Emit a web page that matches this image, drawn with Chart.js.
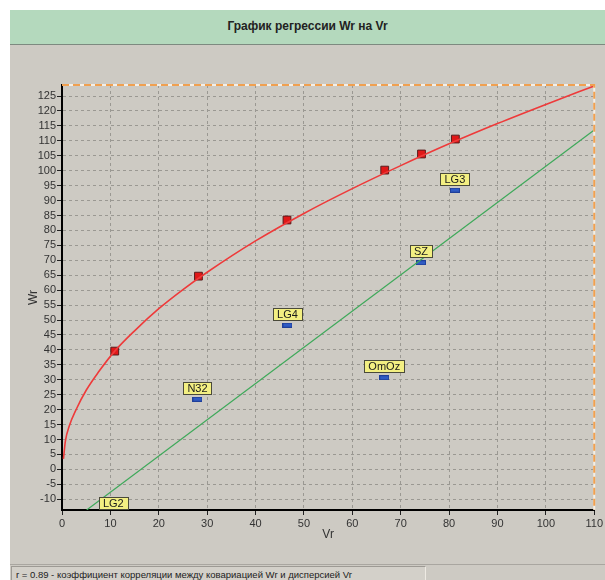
<!DOCTYPE html>
<html>
<head>
<meta charset="utf-8">
<script src="https://cdn.jsdelivr.net/npm/chart.js@4/dist/chart.umd.min.js"></script>
<style>
  html, body { margin: 0; padding: 0; background: #fff; }
  .win { position: relative; width: 605px; height: 580px; overflow: hidden; }
  .titlebar {
    position: absolute; left: 10px; top: 10px; width: 595px; height: 34px;
    background: #b4d9bd; border-bottom: 1px solid #7d8a80;
    font: bold 12px "Liberation Sans", Arial, sans-serif; color: #222;
    text-align: center; line-height: 33px;
  }
  .body { position: absolute; left: 10px; top: 45px; width: 595px; height: 535px; background: #cdcac3; }
  #chart { position: absolute; left: 10px; top: 45px; }
  .status {
    position: absolute; left: 10px; top: 564px; width: 595px; height: 16px;
    border-top: 1px solid #a9a6a0; background: #cdcac3;
  }
  .status span {
    position: absolute; left: 1px; top: 1px; width: 409px; height: 16px;
    border: 1px solid #9d9a94; border-right-color: #eeeae3; background: #d3d0c9;
    font: 9.5px "Liberation Sans", Arial, sans-serif; color: #222; line-height: 15px;
    padding-left: 4px; white-space: nowrap;
  }
</style>
</head>
<body>
<div class="win">
  <div class="titlebar">График регрессии Wr на Vr</div>
  <div class="body"></div>
  <canvas id="chart" width="595" height="518"></canvas>
  <div class="status"><span>r = 0.89 - коэффициент корреляции между ковариацией Wr и дисперсией Vr</span></div>
</div>
<script>
// red regression curve
const curveVr = [0.3, 0.7, 1.5, 3, 5, 7.5, 10.9, 15, 20, 25, 30, 40, 50, 60, 70, 80, 90, 100, 110];
const curveWr = [3.5, 9.5, 14.5, 20.3, 26.5, 32.5, 39.6, 46.4, 53.8, 60.2, 66, 76.5, 85.7, 94, 101.7, 109, 115.8, 122.2, 128.4];

// red squares on the curve
const limitVr = [10.9, 28.2, 46.5, 66.7, 74.3, 81.3];
const limitWr = [39.6, 64.7, 83.5, 100.2, 105.6, 110.6];

// green line (ends)
const lineVr = [5.1, 110];
const lineWr = [-13.6, 113.6];

// sample points
const sampleNames = ['LG2', 'N32', 'LG4', 'OmOz', 'SZ', 'LG3'];
const sampleVr = [10.6, 28.0, 46.6, 66.6, 74.2, 81.2];
const sampleWr = [-15.2, 23.5, 48.3, 30.7, 69.2, 93.5];

const xMin = 0, xMax = 110;
const yMin = -13.6, yMax = 128.7;

const toXY = (xs, ys) => xs.map((x, i) => ({ x, y: ys[i] }));

// small flat blue marker
const blueMark = document.createElement('canvas');
blueMark.width = 10;
blueMark.height = 5;
{
  const c = blueMark.getContext('2d');
  c.fillStyle = '#1f3f9a';
  c.fillRect(0, 0, 10, 5);
  c.fillStyle = '#2f5bc4';
  c.fillRect(1, 1, 8, 3);
}

const frameBorder = {
  id: 'frameBorder',
  afterDatasetsDraw(chart) {
    const { ctx, chartArea: a } = chart;
    ctx.save();
    ctx.lineWidth = 2;
    ctx.strokeStyle = '#f4efe6';
    ctx.beginPath();
    ctx.moveTo(a.left, a.top);
    ctx.lineTo(a.right, a.top);
    ctx.lineTo(a.right, a.bottom);
    ctx.stroke();
    ctx.strokeStyle = '#f0a050';
    ctx.setLineDash([7, 4]);
    ctx.stroke();
    ctx.restore();
  },
};

const sampleLabels = {
  id: 'sampleLabels',
  afterDatasetsDraw(chart) {
    const { ctx } = chart;
    const meta = chart.getDatasetMeta(3);
    ctx.save();
    ctx.font = '11px "Liberation Sans", Arial, sans-serif';
    ctx.textAlign = 'center';
    ctx.textBaseline = 'middle';
    meta.data.forEach((pt, i) => {
      const text = sampleNames[i];
      const w = Math.round(ctx.measureText(text).width) + 8;
      const h = 12;
      const x = Math.round(pt.x - w / 2) + 0.5;
      const y = Math.round(pt.y - 5.5 - h) + 0.5;
      ctx.fillStyle = '#f3ef82';
      ctx.fillRect(x, y, w, h);
      ctx.strokeStyle = '#4a4a3a';
      ctx.lineWidth = 1;
      ctx.strokeRect(x, y, w, h);
      ctx.fillStyle = '#1a1a1a';
      ctx.fillText(text, pt.x, y + h / 2 + 0.5);
    });
    ctx.restore();
  },
};

const tickFont = { family: '"Liberation Sans", Arial, sans-serif', size: 11 };

new Chart(document.getElementById('chart'), {
  type: 'scatter',
  data: {
    datasets: [
      {
        type: 'line',
        data: toXY(curveVr, curveWr),
        borderColor: '#ee3a3a',
        borderWidth: 1.6,
        pointRadius: 0,
        cubicInterpolationMode: 'monotone',
        clip: 0,
      },
      {
        data: toXY(limitVr, limitWr),
        pointStyle: 'rect',
        pointRadius: 5.5,
        backgroundColor: '#e01818',
        borderColor: '#5a1c1c',
        borderWidth: 1,
      },
      {
        type: 'line',
        data: toXY(lineVr, lineWr),
        borderColor: '#3ea95a',
        borderWidth: 1.2,
        pointRadius: 0,
        clip: 0,
      },
      {
        data: toXY(sampleVr, sampleWr),
        pointStyle: blueMark,
        clip: 0,
      },
    ],
  },
  options: {
    responsive: false,
    animation: false,
    layout: { padding: { top: 40, right: 8, left: 0, bottom: 0 } },
    plugins: { legend: { display: false }, tooltip: { enabled: false } },
    scales: {
      x: {
        type: 'linear',
        min: xMin,
        max: xMax,
        afterFit(scale) { scale.height = 53; },
        ticks: {
          stepSize: 10,
          autoSkip: false,
          includeBounds: false,
          padding: 2,
          color: '#333',
          font: tickFont,
        },
        grid: {
          color: '#9a9892',
          tickLength: 5,
          tickColor: '#222',
          tickBorderDash: [],
        },
        border: { color: '#000', width: 2, dash: [3, 3] },
        title: {
          display: true,
          text: 'Vr',
          color: '#333',
          padding: { top: 0, bottom: 21 },
          font: { family: tickFont.family, size: 12 },
        },
      },
      y: {
        type: 'linear',
        min: yMin,
        max: yMax,
        afterFit(scale) { scale.width = 52; },
        ticks: {
          stepSize: 5,
          autoSkip: false,
          includeBounds: false,
          padding: 1,
          color: '#333',
          font: tickFont,
        },
        grid: {
          color: '#9a9892',
          tickLength: 5,
          tickColor: '#222',
          tickBorderDash: [],
        },
        border: { color: '#000', width: 2, dash: [3, 3] },
        title: {
          display: true,
          text: 'Wr',
          color: '#333',
          padding: { top: 16, bottom: 0 },
          font: { family: tickFont.family, size: 12 },
        },
      },
    },
  },
  plugins: [frameBorder, sampleLabels],
});
</script>
</body>
</html>
